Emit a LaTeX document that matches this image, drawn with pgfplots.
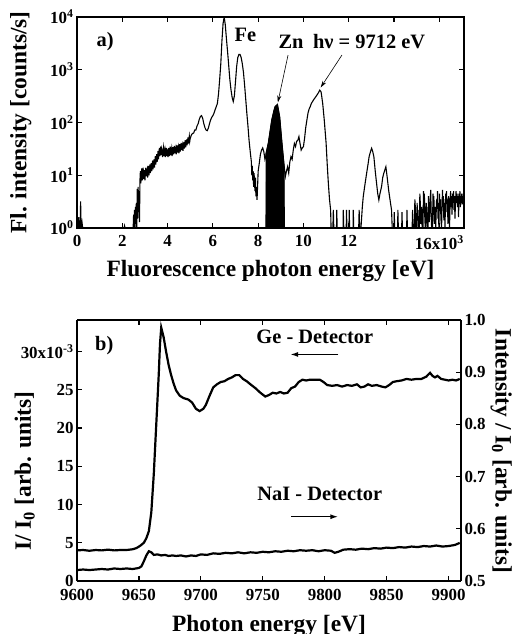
\documentclass[border=0pt]{standalone}
\usepackage{fontspec}
\setmainfont{Liberation Serif}
\usepackage{pgfplots}
\pgfplotsset{compat=1.18}
\usetikzlibrary{arrows.meta}
\newcommand{\tfont}{\bfseries\fontsize{17}{19}\selectfont}
\newcommand{\lfont}{\bfseries\fontsize{23.5}{25}\selectfont}
\newcommand{\afont}{\bfseries\fontsize{20.5}{22}\selectfont}
\pgfplotsset{
  myaxis/.style={
    scale only axis,
    axis line style={line width=1.5bp},
    every tick/.style={line width=1.2bp,black},
    major tick length=5bp,
    tick label style={font=\tfont},
    label style={font=\lfont},
    scaled ticks=false,
  }
}
\begin{document}
\begin{tikzpicture}
\useasboundingbox (0,0) rectangle (514bp,-634bp);
% ---------------- panel a ----------------
\begin{axis}[myaxis,
  at={(77bp,-228bp)}, anchor=south west,
  width=387bp, height=211bp,
  xmin=0, xmax=17090,
  ymode=log, ymin=1, ymax=10000, yminorticks=false,
  xtick={0,2000,4000,6000,8000,10000,12000,14000,16000},
  xticklabels={0,2,4,6,8,10,12,,16x10\textsuperscript{3}},
  ytick={1,10,100,1000,10000},
  yticklabels={10\textsuperscript{0},10\textsuperscript{1},10\textsuperscript{2},10\textsuperscript{3},10\textsuperscript{4}},
  xticklabel style={yshift=-4bp},
  xlabel={Fluorescence photon energy [eV]},
  ylabel={Fl. intensity [counts/s]},
  xlabel style={at={(axis description cs:0.5,-0.231)}, anchor=base},
  ylabel style={at={(axis description cs:-0.145,0.5)}, anchor=center, rotate=0},
]
\addplot[black, line width=1.1bp] coordinates {
(0,1)(50,1)(80,1.6)(100,1)(140,1)(160,3.2)(180,1)(220,1.3)(250,1)
(2080,1)(2100,1.1)(2120,1)(2480,1)(2500,1.8)(2520,1)(2540,2.2)(2560,1)(2580,2.5)(2600,1.2)(2620,3)(2640,1)(2660,5.5)(2680,1.5)(2700,6)(2720,2)(2740,5)(2760,1.3)(2780,8)
(2800,12)(2820,7)(2840,11)(2860,13.5)(2880,8)(2900,10)(2920,14)(2940,8.5)(2960,11)(2980,12.5)(3000,8)(3020,11)(3040,14)(3060,9.5)(3080,12)(3100,13)(3120,9)(3140,12)(3160,15)(3180,10)(3200,13)(3220,16)(3240,11)(3260,14)(3280,17)(3300,12)(3320,16)(3340,19)(3360,13)(3380,17)(3400,20)(3420,14)(3440,19)(3460,23)(3480,16)(3500,21)(3520,25)(3540,18)(3560,23)(3580,29)(3600,20)(3620,27)(3640,33)(3660,23)(3680,29)(3700,35)(3720,24)(3740,31)(3760,28)(3780,22)(3800,30)(3820,34)(3840,23)(3860,28)(3880,31)(3900,22)(3920,27)(3940,33)(3960,23)(3980,29)
(4000,30)(4020,22)(4040,27)(4060,33)(4080,23)(4100,29)(4120,35)(4140,24)(4160,28)(4180,32)(4200,23)(4220,29)(4240,34)(4260,25)(4280,31)(4300,36)(4320,26)(4340,30)(4360,33)(4380,25)(4400,31)(4420,37)(4440,27)(4460,32)(4480,35)(4500,26)(4520,33)(4540,39)(4560,28)(4580,35)(4600,41)(4620,30)(4640,35)(4660,38)(4680,29)(4700,36)(4720,43)(4740,32)(4760,38)(4780,46)(4800,34)(4820,40)(4840,48)(4860,37)(4880,44)(4900,52)(4920,40)(4940,47)(4960,55)(4980,44)
(5000,50)(5050,58)(5100,62)(5150,63)(5200,72)(5250,72)(5300,86)(5350,95)(5400,115)(5450,130)(5500,135)(5550,120)(5600,95)(5650,80)(5700,72)(5750,70)(5800,78)(5850,95)(5900,112)(5950,125)
(6000,135)(6050,150)(6100,175)(6150,200)(6200,230)(6250,350)(6300,650)(6350,1300)(6400,3500)(6450,7500)(6500,10000)(6550,7000)(6600,3800)(6650,2200)(6700,1200)(6750,650)(6800,420)(6850,300)(6900,250)(6950,320)
(7000,600)(7050,1150)(7100,1700)(7150,1950)(7200,1950)(7250,1700)(7300,1300)(7350,900)(7400,520)(7450,280)(7500,150)(7550,85)(7600,45)(7650,28)(7700,18)(7720,10)(7740,15)(7760,8)(7780,12)(7800,6)(7820,11)(7840,7)(7860,5)(7880,9)(7900,4)(7920,6)(7950,3.4)(7980,7)
(8000,12)(8050,17)(8100,25)(8150,30)(8200,33)(8250,28)(8300,20)(8330,22)
(8350,26)(8450,41)(8600,111)(8700,170)(8750,200)(8850,220)(8950,128)(9050,41)(9150,14.5)
(9200,9.4)(9250,12)(9300,14.5)(9350,11)(9400,18)(9450,22.5)(9500,20)(9550,30)(9600,40)(9650,35)(9700,44)(9750,46)(9800,54)(9850,40)(9900,30)(9950,33)
(10000,35)(10050,50)(10100,80)(10150,110)(10200,150)(10250,180)(10300,200)(10350,230)(10450,270)(10550,310)(10650,360)(10720,410)(10780,380)(10850,230)(10920,110)
(11000,41)(11050,16)(11100,7)(11150,3.5)(11200,2.2)(11220,1)(11300,1)(11320,2.2)(11340,1)(11460,1)(11470,2.2)(11490,1)(11750,1)(11760,2.2)(11780,1)(11890,1)(11900,2.2)(11920,1)
(12010,1)(12020,2.2)(12040,1)(12190,1)(12200,2.2)(12220,1)(12440,1)(12460,2.2)(12480,1)(12540,1)(12600,2.5)(12640,3.9)(12700,6)(12790,10.9)(12850,16)(12900,22.5)(12960,28)
(13010,32.5)(13060,28)(13110,22.5)(13170,12)(13230,7)(13280,4.5)(13330,3.4)(13380,4.5)(13450,6.1)(13500,9)(13550,11)(13640,14.5)(13700,9)(13760,5.3)(13820,3.5)(13890,2.2)(13920,1)
(14000,1)(14010,2)(14030,1)(14160,1)(14170,2.2)(14190,1)(14340,1)(14350,2)(14370,1)(14560,1)(14570,2.2)(14590,1)(14800,1)
(14820,2.2)(14840,1)(14900,1)(14920,3.5)(14940,2.5)(14960,1)(15000,1)(15020,3)(15040,1.5)(15060,2.2)(15080,1)(15120,1)(15140,4.5)(15160,3)(15180,1.2)(15220,2.5)(15240,1)(15280,1)(15300,5)(15320,3.5)(15340,4.5)(15360,1.5)(15380,1)(15420,3)(15440,2.2)(15460,1)(15500,1)(15520,4)(15540,2.5)(15560,1.3)(15600,3.5)(15620,5.3)(15640,2)(15660,1)
(15700,1)(15720,4.5)(15740,3)(15760,4)(15780,1.2)(15820,2.5)(15840,1)(15880,3.5)(15900,2.5)(15920,5)(15940,1.5)(15960,3)(15980,1)(16010,4.5)(16030,2.2)(16050,3.5)(16070,1.5)(16100,1)(16120,2.5)(16140,5.3)(16160,2.5)(16180,4)(16200,1.4)(16230,3)(16250,1)(16280,4.5)(16300,3)(16320,5)(16340,2)(16360,3.5)(16380,1.2)(16410,4)(16430,2.5)(16450,1)(16480,3.5)(16500,5)(16520,2.5)(16540,4)(16560,1.8)(16590,4.5)
(16610,3)(16630,5)(16650,2.2)(16670,4)(16690,1.5)(16720,3.5)(16740,5)(16760,3)(16780,4.5)(16800,2.5)(16830,4)(16850,1.6)(16870,4.5)(16890,3)(16910,5)(16930,2.5)(16950,4)(16970,3)(16990,4.5)(17010,2.8)(17030,4)(17050,3.2)(17070,4.5)(17090,3.5)
};
\addplot[fill=black, draw=black, line width=0.8bp] coordinates {
(8340,1)(8350,26)(8450,41)(8600,111)(8700,170)(8750,200)(8850,220)(8950,128)(9050,41)(9150,14.5)(9160,1)
} -- cycle;
\node[font=\afont] at (axis cs:1240,3400) {a)};
\node[font=\afont] at (axis cs:7440,4500) {Fe};
\node[font=\afont] at (axis cs:9450,3400) {Zn};
\node[font=\afont] at (axis cs:12900,3400) {hν = 9712 eV};
\draw[-{Stealth[length=7bp,width=4bp]}, line width=0.6bp] (axis cs:9320,1900) -- (axis cs:8870,240);
\draw[-{Stealth[length=7bp,width=4bp]}, line width=0.6bp] (axis cs:11700,1900) -- (axis cs:10760,460);
\end{axis}
% ---------------- panel b, left axis ----------------
\begin{axis}[myaxis,
  at={(77bp,-581bp)}, anchor=south west,
  width=384bp, height=261bp,
  xmin=9600, xmax=9910,
  ymin=0, ymax=34.1,
  axis y line*=left,
  xtick={9600,9650,9700,9750,9800,9850,9900},
  xticklabels={9600,9650,9700,9750,9800,9850,9900},
  ytick={0,5,10,15,20,25,30},
  yticklabels={0,5,10,15,20,25,30x10\textsuperscript{-3}},
  xticklabel style={yshift=-5bp},
  xlabel={Photon energy [eV]},
  ylabel={I/ I\textsubscript{0} [arb. units]},
  xlabel style={at={(axis description cs:0.5,-0.192)}, anchor=base},
  ylabel style={at={(axis description cs:-0.136,0.421)}, anchor=center},
]
\addplot[black, line width=2.2bp] coordinates {
(9600,4.0)(9605,4.05)(9610,3.95)(9615,4.05)(9620,4.0)(9625,4.1)(9630,4.0)(9635,4.05)(9640,4.05)(9645,4.15)(9648,4.3)(9651,4.6)(9654,5.0)(9656,5.6)(9658,6.5)(9660,9.0)(9662,14)(9664,20.5)(9666,27)(9667,31)(9668,33.1)
(9670,31.8)(9672,29.9)(9674,28.2)(9676,26.9)(9678,25.8)(9680,24.9)(9683,24.2)(9686,23.9)(9690,23.7)(9693,23.3)(9696,22.5)(9699,22.2)(9702,22.5)(9704,23.0)(9707,24.2)(9710,25.3)(9713,25.7)(9716,26.0)(9719,26.1)(9722,26.4)(9725,26.6)(9728,26.9)(9731,26.9)(9734,26.4)(9737,26.1)(9740,25.7)(9744,25.2)(9748,24.6)
(9752,24.1)(9755,24.3)(9758,24.6)(9761,24.5)(9764,24.7)(9767,24.5)(9770,24.6)(9773,25.2)(9776,25.4)(9779,26.0)(9782,26.3)(9785,26.2)(9788,26.3)(9792,26.3)(9796,26.3)(9799,26.0)(9802,25.6)(9806,25.5)(9810,25.6)(9814,25.4)(9818,25.6)(9822,25.5)(9826,25.7)(9829,25.3)(9832,25.4)(9835,25.7)(9838,25.5)(9842,25.6)(9846,25.4)(9849,25.3)
(9852,25.6)(9855,26.0)(9858,26.1)(9862,26.2)(9866,26.4)(9870,26.3)(9874,26.4)(9878,26.4)(9882,26.7)(9885,27.2)(9887,26.8)(9889,26.6)(9891,26.8)(9894,26.4)(9897,26.3)(9900,26.2)(9903,26.3)(9906,26.2)(9909,26.4)
};
\node[font=\afont] at (axis cs:9622,30.8) {b)};
\node[font=\afont] at (axis cs:9792,31.9) {Ge - Detector};
\node[font=\afont] at (axis cs:9796,11.4) {NaI - Detector};
\draw[-{Latex[length=8bp,width=5bp]}, line width=1.5bp] (axis cs:9811,29.6) -- (axis cs:9772,29.6);
\draw[-{Latex[length=8bp,width=5bp]}, line width=1.5bp] (axis cs:9773,8.4) -- (axis cs:9811,8.4);
\end{axis}
% ---------------- panel b, right axis ----------------
\begin{axis}[myaxis,
  at={(77bp,-581bp)}, anchor=south west,
  width=384bp, height=261bp,
  xmin=9600, xmax=9910,
  ymin=0.5, ymax=1.0,
  axis y line*=right, axis x line=none,
  ytick={0.5,0.6,0.7,0.8,0.9,1.0},
  yticklabels={0.5,0.6,0.7,0.8,0.9,1.0},
  ylabel={Intensity / I\textsubscript{0} [arb. units]},
  ylabel style={at={(axis description cs:1.105,0.498)}, anchor=center, rotate=180},
]
\addplot[black, line width=2.2bp] coordinates {
(9600,0.521)(9605,0.522)(9610,0.521)(9615,0.522)(9620,0.523)(9625,0.522)(9630,0.524)(9635,0.523)(9640,0.524)(9645,0.523)(9650,0.525)(9652,0.528)(9654,0.538)(9656,0.549)(9658,0.557)(9660,0.555)(9662,0.550)(9665,0.551)(9668,0.549)(9671,0.550)(9674,0.548)(9677,0.549)(9680,0.548)(9684,0.549)(9688,0.547)(9692,0.549)(9696,0.548)
(9700,0.551)(9705,0.550)(9710,0.553)(9715,0.552)(9720,0.554)(9725,0.553)(9730,0.555)(9735,0.553)(9740,0.555)(9745,0.554)(9750,0.556)(9755,0.555)(9760,0.557)(9765,0.556)(9770,0.558)(9775,0.557)(9780,0.559)(9785,0.558)(9790,0.559)(9795,0.557)
(9800,0.559)(9805,0.558)(9808,0.554)(9811,0.556)(9815,0.560)(9820,0.561)(9825,0.560)(9830,0.562)(9835,0.561)(9840,0.563)(9845,0.562)(9850,0.564)(9855,0.563)(9860,0.565)(9865,0.564)(9870,0.566)(9875,0.565)(9880,0.567)(9885,0.566)(9890,0.568)(9895,0.566)(9900,0.567)(9905,0.569)(9909,0.573)
};
\end{axis}
\end{tikzpicture}
\end{document}
